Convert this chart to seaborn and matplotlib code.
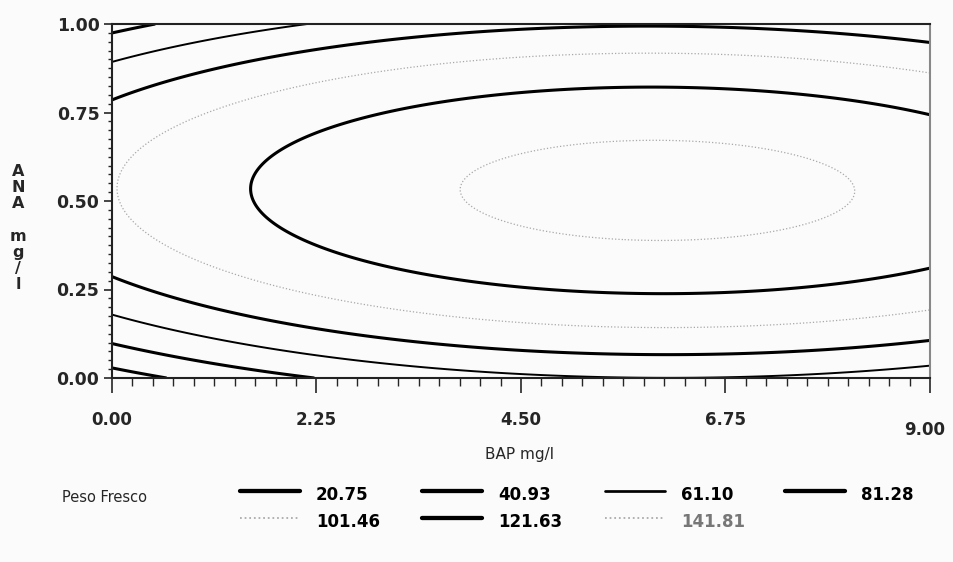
import numpy as np
import matplotlib
matplotlib.use("Agg")
import matplotlib.pyplot as plt
import matplotlib.transforms as mtransforms
import seaborn as sns
from matplotlib.lines import Line2D
from matplotlib.ticker import MultipleLocator, FormatStrFormatter

# ranges of the two growth regulators (mg/l)
bap_range = [0.0, 9.0]
ana_range = [0.0, 1.0]

# quadratic response surface for fresh weight, coefficients
b0, b_bap, b_ana = 11.53, 16.136, 332.32
b_bap2, b_ana2, b_inter = -1.317, -310.0, -0.62

levels = [20.75, 40.93, 61.10, 81.28, 101.46, 121.63, 141.81]
level_labels = ["20.75", "40.93", "61.10", "81.28", "101.46", "121.63", "141.81"]
line_widths = [2.2, 2.2, 1.4, 2.2, 0.9, 2.2, 0.9]
line_colors = ["black", "black", "black", "black", "#a8a8a8", "black", "#a8a8a8"]
line_styles = ["solid", "solid", "solid", "solid", "dotted", "solid", "dotted"]
label_colors = ["black"] * 6 + ["#777777"]

x_ticks = [0.00, 2.25, 4.50, 6.75, 9.00]
y_ticks = [0.00, 0.25, 0.50, 0.75, 1.00]

sns.set_style("ticks")
plt.rcParams["font.family"] = ["DejaVu Sans"]

W, H = 954, 562
fig = plt.figure(figsize=(W / 100, H / 100), dpi=100)
fig.patch.set_facecolor("#fbfbfb")
ax = fig.add_axes([112 / W, 1 - 378 / H, 818 / W, 354 / H])
ax.set_facecolor("#fbfbfb")

bap = np.linspace(bap_range[0], bap_range[1], 400)
ana = np.linspace(ana_range[0], ana_range[1], 400)
X, Y = np.meshgrid(bap, ana)
Z = b0 + b_bap * X + b_ana * Y + b_bap2 * X**2 + b_ana2 * Y**2 + b_inter * X * Y

ax.contour(X, Y, Z, levels=levels, colors=line_colors,
           linewidths=line_widths, linestyles=line_styles)

ax.set_xlim(bap_range)
ax.set_ylim(ana_range)
ax.set_xticks(x_ticks)
ax.set_yticks(y_ticks)
ax.xaxis.set_minor_locator(MultipleLocator(0.225))
ax.yaxis.set_minor_locator(MultipleLocator(0.025))
ax.xaxis.set_major_formatter(FormatStrFormatter("%.2f"))
ax.yaxis.set_major_formatter(FormatStrFormatter("%.2f"))
ax.tick_params(axis="x", which="major", length=11, width=1.2, pad=13,
               labelsize=12, direction="out")
ax.tick_params(axis="x", which="minor", length=6, width=1, direction="out")
ax.tick_params(axis="y", which="major", length=6, width=1.2, pad=3,
               labelsize=12.5, direction="out")
ax.tick_params(axis="y", which="minor", length=3, width=1, direction="out")
for lab in ax.get_xticklabels() + ax.get_yticklabels():
    lab.set_fontweight("bold")
# the last x label sits a little lower in the original
last = ax.get_xticklabels()[-1]
last.set_transform(last.get_transform() +
                   mtransforms.ScaledTranslation(-5 / 100, -10 / 100, fig.dpi_scale_trans))
for side in ["left", "bottom", "top"]:
    ax.spines[side].set_linewidth(1.5)
    ax.spines[side].set_color("#222222")
ax.spines["right"].set_linewidth(1.5)
ax.spines["right"].set_color("#888888")

# axis titles
fig.text(18 / W, 1 - 228 / H, "A\nN\nA\n\nm\ng\n/\nl", ha="center", va="center",
         fontsize=11.5, fontweight="bold", linespacing=1.1)
fig.text(520 / W, 1 - 455 / H, "BAP mg/l", ha="center", va="center", fontsize=11)

# legend for contour levels
fig.text(62 / W, 1 - 497 / H, "Peso Fresco", ha="left", va="center", fontsize=10.5)
col_x = [240, 422, 605, 785]
row_y = [495, 522]
for i, (lab, lw, col, ls, tc) in enumerate(zip(level_labels, line_widths, line_colors,
                                                line_styles, label_colors)):
    r, c = divmod(i, 4)
    x0 = col_x[c]
    y = 1 - row_y[r] / H
    fig.add_artist(Line2D([x0 / W, (x0 + 60) / W], [y + 4 / H, y + 4 / H],
                          transform=fig.transFigure, color=col, lw=lw * 1.4,
                          linestyle=ls))
    fig.text((x0 + 76) / W, y, lab, ha="left", va="center", fontsize=12,
             fontweight="bold", color=tc)

fig.savefig("out.png", dpi=100, facecolor=fig.get_facecolor())
